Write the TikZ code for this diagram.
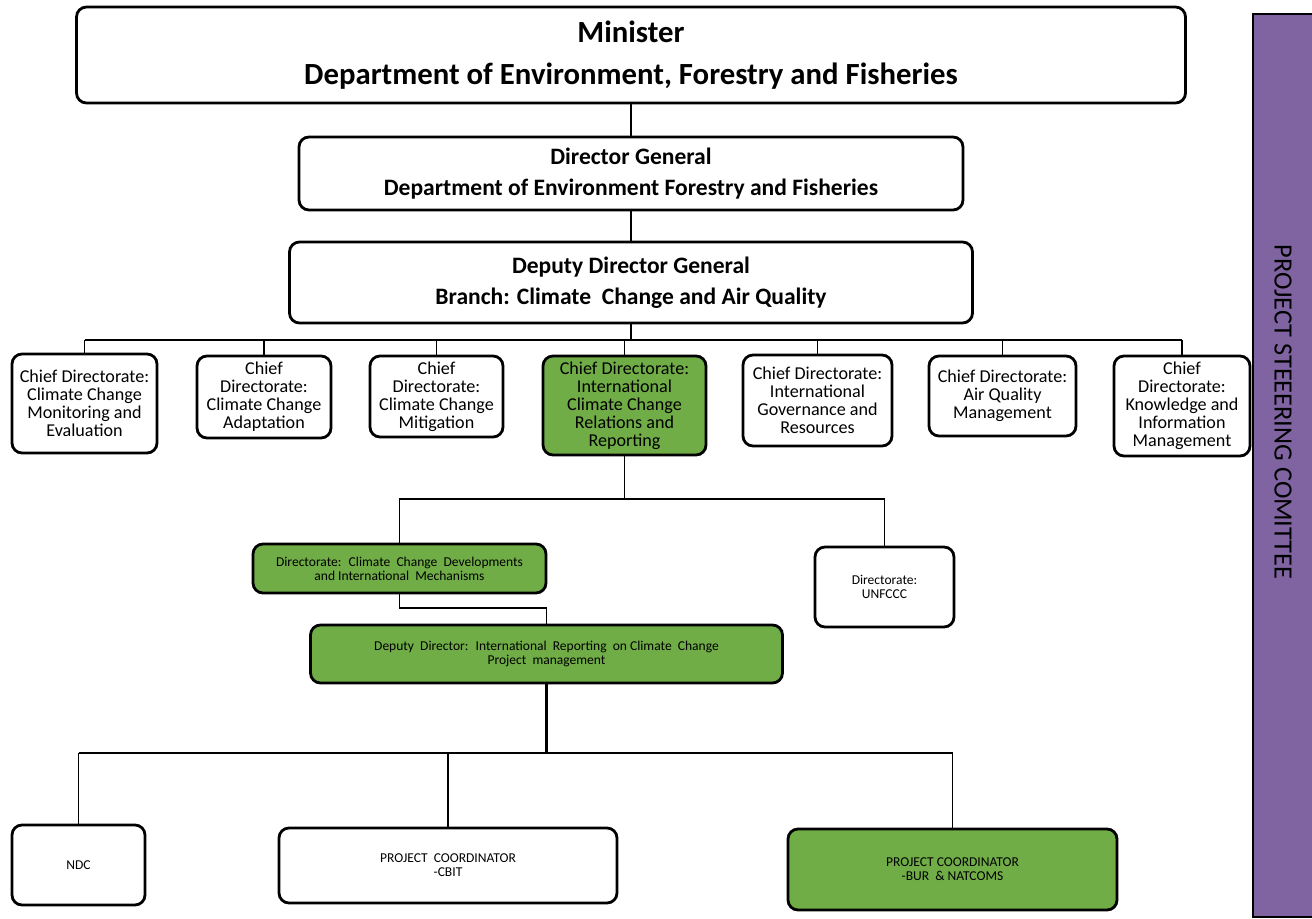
\documentclass[tikz,border=0pt]{standalone}
\usepackage{fontspec}
\setmainfont{Carlito}
\definecolor{ccgreen}{HTML}{70AD47}
\definecolor{ccpurple}{HTML}{8064A2}
\begin{document}
\begin{tikzpicture}[x=0.2mm,y=-0.2mm,
    box/.style={draw,line width=1.6pt,rounded corners=2mm,align=center,inner sep=1pt,fill=white},
    chief/.style={box,font=\fontsize{10.3}{10.2}\selectfont},
    small/.style={box,font=\fontsize{7.7}{8}\selectfont},
    conn/.style={line width=1pt},
    trunk/.style={line width=2.2pt}]
\useasboundingbox (0,0) rectangle (1312,919);
\node[box,minimum width=221.8mm,minimum height=19.2mm,font=\fontsize{17.5}{24}\selectfont\bfseries] (minister) at (631,55) {Minister\\Department of Environment, Forestry and Fisheries};
\node[box,minimum width=132.8mm,minimum height=14.6mm,font=\fontsize{13.4}{17.6}\selectfont\bfseries] (dg) at (631,173.5) {Director General\\Department of Environment Forestry and Fisheries};
\node[box,minimum width=136.6mm,minimum height=16.2mm,font=\fontsize{13.4}{17.6}\selectfont\bfseries] (ddg) at (631,282.5) {Deputy Director General\\Branch: Climate~ Change and Air Quality};
\foreach \n/\x/\y/\w/\h/\c/\t in {
    1/84.5/403.5/29/19.8/white/{Chief Directorate:\\Climate Change\\Monitoring and\\Evaluation},
    2/264/397/26.8/16.4/white/{Chief\\Directorate:\\Climate Change\\Adaptation},
    3/436.5/396.5/26.6/16.2/white/{Chief\\Directorate:\\Climate Change\\Mitigation},
    4/624.5/405.5/32.6/19.8/ccgreen/{Chief Directorate:\\International\\Climate Change\\Relations and\\Reporting},
    5/817.5/400.5/29.8/18.2/white/{Chief Directorate:\\International\\Governance and\\Resources},
    6/1002.5/396/29.4/16/white/{Chief Directorate:\\Air Quality\\Management},
    7/1182/406/27.2/20/white/{Chief\\Directorate:\\Knowledge and\\Information\\Management}}
    \node[chief,fill=\c,minimum width=\w mm,minimum height=\h mm] (c\n) at (\x,\y) {\t};
\node[small,fill=ccgreen,minimum width=58.6mm,minimum height=9.8mm] (ccd) at (399.5,568.5) {Directorate:~ Climate~ Change~ Developments\\and International~ Mechanisms};
\node[small,minimum width=27.8mm,minimum height=16mm] (unf) at (884.5,587) {Directorate:\\UNFCCC};
\node[small,fill=ccgreen,minimum width=94.4mm,minimum height=11.6mm] (dd) at (546.5,654) {Deputy~ Director:~ International~ Reporting~ on Climate~ Change\\Project~ management};
\node[small,minimum width=26.6mm,minimum height=16mm] (ndc) at (78.5,865) {NDC};
\node[small,minimum width=67.6mm,minimum height=15mm] (cbit) at (448,865.5) {PROJECT~ COORDINATOR\\-CBIT};
\node[small,fill=ccgreen,minimum width=65.8mm,minimum height=16.2mm] (bur) at (952.5,869.5) {PROJECT COORDINATOR\\-BUR~ \& NATCOMS};
\draw[line width=1.6pt,fill=ccpurple] (1253,14) rectangle (1320,917);
\node[rotate=-90,font=\fontsize{15}{18}\selectfont] (psc) at (1283,412) {PROJECT STEEERING COMITTEE};
\coordinate (bus) at (631,340);
\coordinate (split) at (623,499);
\coordinate (jog) at (546,608);
\coordinate (low) at (546,753);
\draw[conn] (minister) -- (dg);
\draw[conn] (dg) -- (ddg);
\draw[conn] (ddg) -- (bus);
\draw[conn] (c1.north |- bus) -- (c7.north |- bus);
\foreach \n in {1,...,7}
    \draw[conn] (c\n.north |- bus) -- (c\n.north);
\draw[conn] (c4.south) -- (c4.south |- split);
\draw[conn] (ccd.north) -- (ccd.north |- split) -- (unf.north |- split) -- (unf.north);
\draw[conn] (ccd.south) -- (ccd.south |- jog) -| (dd.north);
\draw[trunk] (dd.south) -- (dd.south |- low);
\draw[conn] (ndc.north |- low) -- (bur.north |- low);
\foreach \n in {ndc,cbit,bur}
    \draw[conn] (\n.north |- low) -- (\n.north);
\end{tikzpicture}
\end{document}
